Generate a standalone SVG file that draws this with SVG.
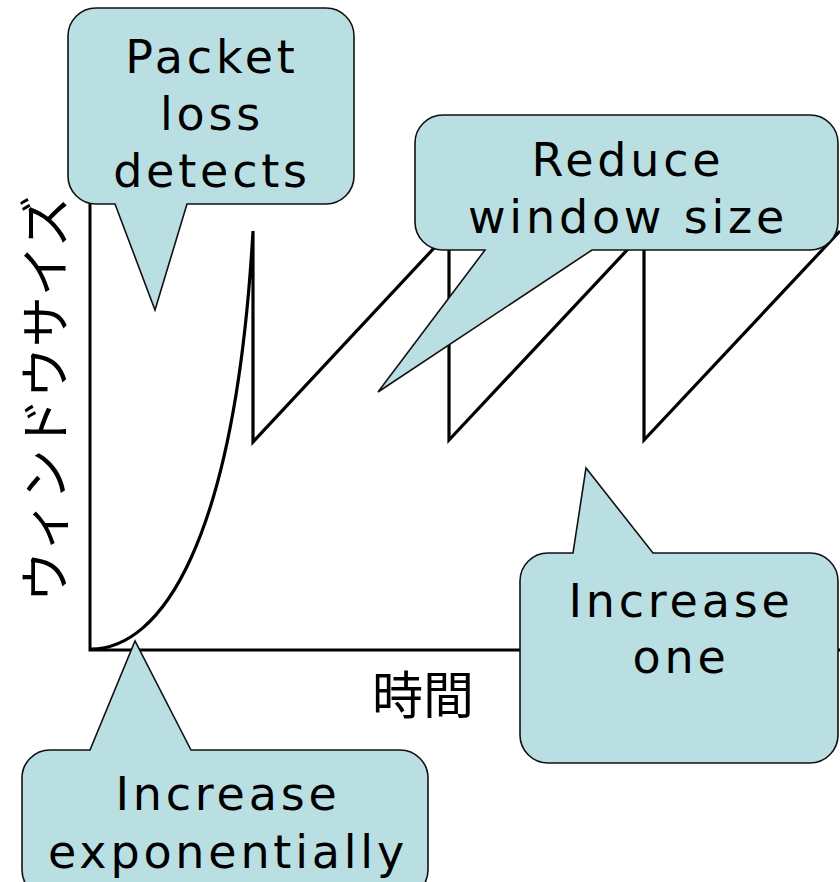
<svg xmlns="http://www.w3.org/2000/svg" width="840" height="882" viewBox="0 0 840 882">
  <style>
    .axis { fill: none; stroke: #000; stroke-width: 3; }
    .trace { fill: none; stroke: #000; stroke-width: 3.2; stroke-linejoin: miter; }
    .callout { fill: #BADFE3; stroke: #111; stroke-width: 1.6; }
    .note { font-family: "DejaVu Sans", "Liberation Sans", sans-serif; font-size: 46px; letter-spacing: 3.8px; fill: #000; text-anchor: middle; }
    .jp { font-family: "Noto Sans CJK JP", "Noto Sans", sans-serif; font-size: 51px; fill: #000; }
  </style>

  <rect width="840" height="882" fill="#fff"/>

  <!-- axes and window-size trace -->
  <g id="connectors">
    <path class="axis" d="M90,180 V650 H840"/>
    <path class="trace" d="M91,649 C160,649 235,545 253,231 V442 L449,232 V440 L644,232 V440 L840,231"/>
  </g>

  <!-- axis labels -->
  <g id="label-time">
    <text class="jp" x="372" y="714">時間</text>
  </g>
  <g id="label-window">
    <text class="jp" transform="translate(42,399) rotate(-90)" text-anchor="middle" dominant-baseline="central">ウィンドウサイズ</text>
  </g>

  <!-- callouts -->
  <g id="callout-loss">
    <path class="callout" d="M96,8 H326 A28,28 0 0 1 354,36 V176 A28,28 0 0 1 326,204 H187 L155,310 L115,204 H96 A28,28 0 0 1 68,176 V36 A28,28 0 0 1 96,8 Z"/>
    <text class="note" x="212" y="73">Packet</text>
    <text class="note" x="212" y="130">loss</text>
    <text class="note" x="212" y="187">detects</text>
  </g>

  <g id="callout-reduce">
    <path class="callout" d="M443,115 H810 A28,28 0 0 1 838,143 V222 A28,28 0 0 1 810,250 H592 L378,392 L485,250 H443 A28,28 0 0 1 415,222 V143 A28,28 0 0 1 443,115 Z"/>
    <text class="note" x="628" y="176">Reduce</text>
    <text class="note" x="628" y="233">window size</text>
  </g>

  <g id="callout-linear">
    <path class="callout" d="M548,553 H573 L586,468 L653,553 H810 A28,28 0 0 1 838,581 V735 A28,28 0 0 1 810,763 H548 A28,28 0 0 1 520,735 V581 A28,28 0 0 1 548,553 Z"/>
    <text class="note" x="681" y="617">Increase</text>
    <text class="note" x="681" y="673">one</text>
  </g>

  <g id="callout-exp">
    <path class="callout" d="M50,750 H90 L135,641 L191,750 H400 A28,28 0 0 1 428,778 V870 A28,28 0 0 1 400,898 H50 A28,28 0 0 1 22,870 V778 A28,28 0 0 1 50,750 Z"/>
    <text class="note" x="228" y="810">Increase</text>
    <text class="note" x="228" y="868">exponentially</text>
  </g>
</svg>
